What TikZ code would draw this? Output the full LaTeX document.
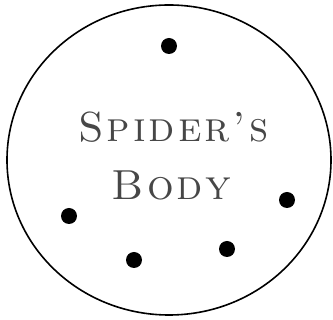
\documentclass[tikz,border=0pt]{standalone}
\usepackage{tikz}
\usetikzlibrary{positioning,shapes.geometric}

% spread the letters of a word apart
\makeatletter
\newcommand\spreadword[1]{\@tfor\sw@ch:=#1\do{\sw@ch\kern3pt}\unkern}
\makeatother

\begin{document}
\begin{tikzpicture}[
    x=1pt,y=-1pt,
    body/.style={draw,ellipse,line width=1.6pt,inner sep=0pt},
    spot/.style={circle,fill=black,inner sep=0pt,minimum size=16pt},
    caption/.style={text=black!72,anchor=base,inner sep=0pt,
      font=\fontsize{42}{50}\selectfont\scshape}
  ]
  \useasboundingbox (0,0) rectangle (333,320);
  \node[body,minimum width=324pt,minimum height=310pt] (B) at (169,160) {};
  \node[caption] (T1) at (173.3,142) {\spreadword{Spider's}};
  \node[caption] (T2) at ([xshift=-1.6pt,yshift=-58pt]T1.base) {\spreadword{Body}};
  \node[spot] (s1) at (169,46) {};
  \node[spot] (s2) at (69,216) {};
  \node[spot] (s3) at (134,260) {};
  \node[spot] (s4) at (227,249) {};
  \node[spot] (s5) at (287,200) {};
\end{tikzpicture}
\end{document}
